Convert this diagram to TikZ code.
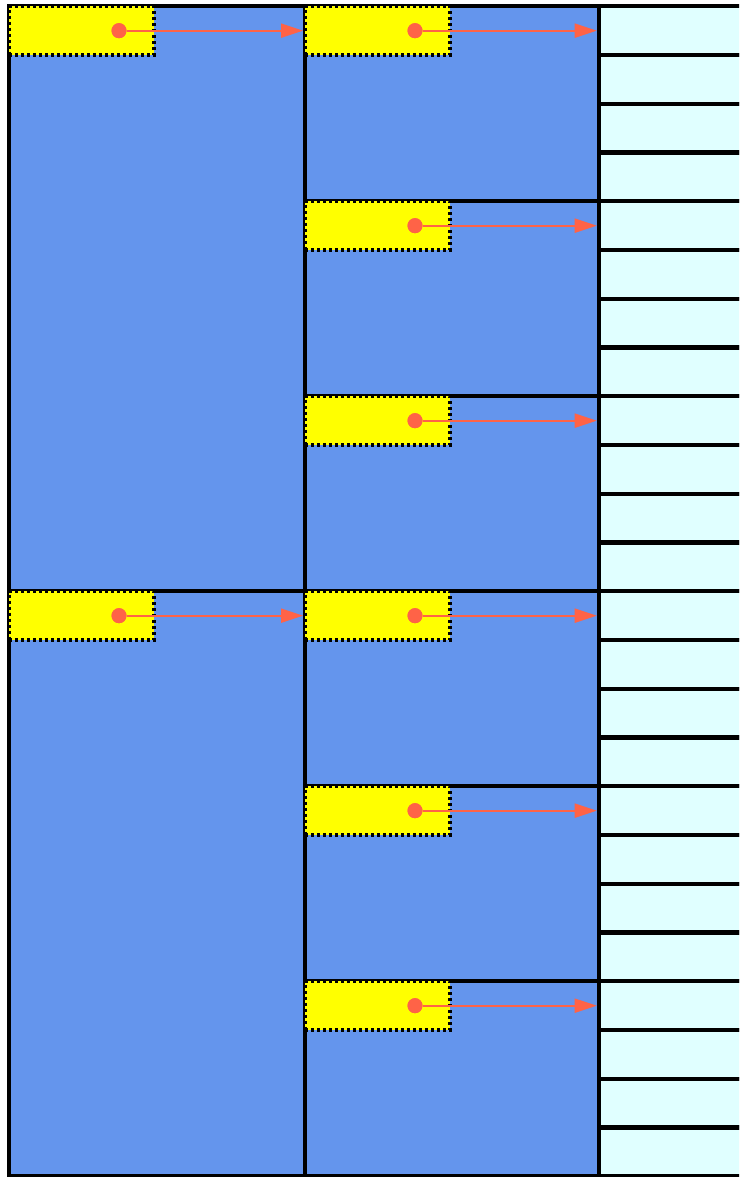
\documentclass[tikz,border=0pt]{standalone}
\usetikzlibrary{arrows.meta}
\definecolor{cblue}{HTML}{6495ED}
\definecolor{lcyan}{HTML}{E0FFFF}
\definecolor{tomato}{HTML}{FF6347}
\definecolor{yel}{HTML}{FFFF00}
\tikzset{
  cell/.style={draw=black, line width=4.2pt, inner sep=0pt, outer sep=0pt, anchor=north west},
  lcell/.style={cell, fill=cblue, minimum width=296pt, minimum height=585pt},
  mcell/.style={cell, fill=cblue, minimum width=293.7pt, minimum height=195pt},
  rcell/.style={cell, fill=lcyan, minimum width=200pt, minimum height=48.75pt},
  ybox/.style={draw=black, fill=yel, line width=3.6pt, dash pattern=on 3.2pt off 2.8pt,
    inner sep=0pt, outer sep=0pt, anchor=north west, minimum width=145pt, minimum height=48.75pt},
  rdot/.style={circle, fill=tomato, inner sep=0pt, minimum size=15pt},
  arr/.style={draw=tomato, line width=2pt, -{Triangle[length=22pt,width=14pt]}, shorten >=2pt}
}
\begin{document}
\begin{tikzpicture}[x=1pt,y=-1pt]
\useasboundingbox (0,0) rectangle (739,1177);
\fill[white] (0,0) rectangle (739,1177);
\clip (0,0) rectangle (739,1177);
% left column
\foreach \i in {1,2} {
  \node[lcell] (L\i) at (9,{6.3+(\i-1)*585}) {};
}
% middle column
\foreach \i in {1,...,6} {
  \node[mcell] (M\i) at (305,{6.3+(\i-1)*195}) {};
}
% right column
\foreach \i in {1,...,24} {
  \node[rcell] (R\i) at (598.7,{6.3+(\i-1)*48.75}) {};
}
% left yellow boxes with arrows to middle column
\foreach \i/\m in {1/1,2/4} {
  \node[ybox] (YL\i) at (L\i.north west) {};
  \node[rdot] (DL\i) at ([xshift=110pt]YL\i.west) {};
  \draw[arr] (DL\i) -- (DL\i -| M\m.west);
  \node[rdot] at (DL\i) {};
}
% middle yellow boxes with arrows to right column
\foreach \i in {1,...,6} {
  \pgfmathtruncatemacro{\r}{(\i-1)*4+1}
  \node[ybox] (YM\i) at (M\i.north west) {};
  \node[rdot] (DM\i) at ([xshift=110pt]YM\i.west) {};
  \draw[arr] (DM\i) -- (DM\i -| R\r.west);
  \node[rdot] at (DM\i) {};
}
\end{tikzpicture}
\end{document}
